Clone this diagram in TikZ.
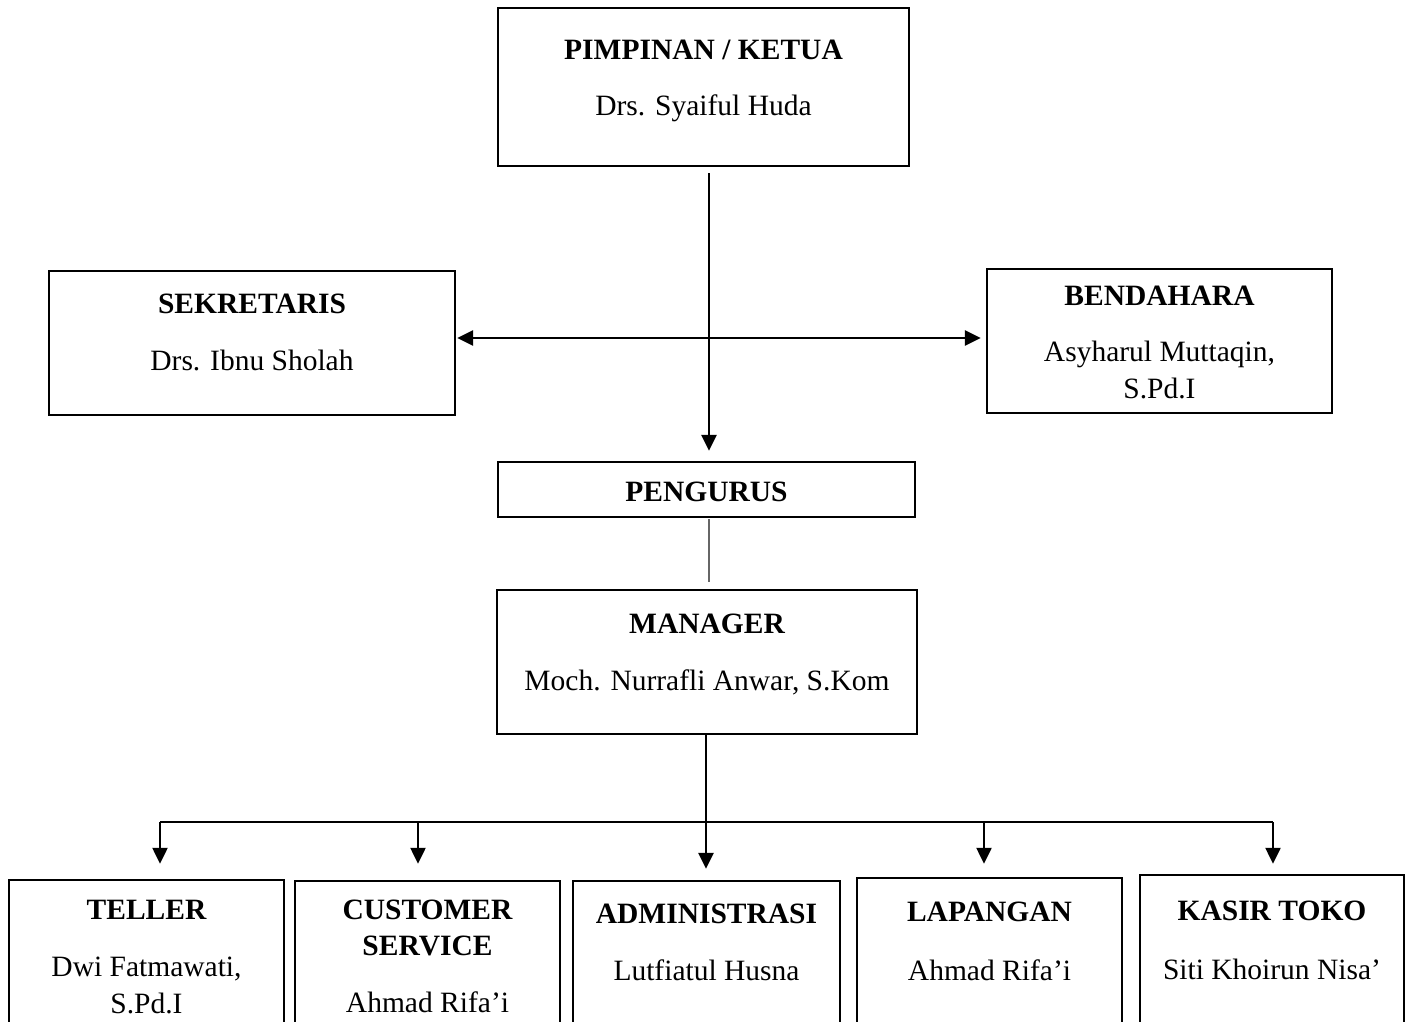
\documentclass[tikz,border=0pt]{standalone}
\usepackage{fontspec}
\setmainfont{Liberation Serif}
\usetikzlibrary{arrows.meta}
\begin{document}
\begin{tikzpicture}[x=1pt,y=-1pt,
  box/.style={draw=black, line width=2.4pt, inner sep=0pt, rectangle},
  ttl/.style={anchor=base, inner sep=0pt, font=\fontsize{29.5}{35}\selectfont\bfseries},
  nm/.style={anchor=base, inner sep=0pt, font=\fontsize{29.5}{35}\selectfont},
  arr/.style={line width=2.8pt, -{Triangle[length=16pt,width=15pt]}},
  dbl/.style={line width=2.8pt, {Triangle[length=16pt,width=15pt]}-{Triangle[length=16pt,width=15pt]}},
  drop/.style={line width=2.3pt, -{Triangle[length=16pt,width=15pt]}},
  branch/.style={line width=1.8pt},
  thinline/.style={line width=1.2pt, draw=black!60}]
\useasboundingbox (0,0) rectangle (1408,1021);
\clip (0,0) rectangle (1408,1021);
\fill[white] (0,0) rectangle (1408,1021);

% boxes
\node[box, minimum width=411, minimum height=158] (pimp) at (703.5,87) {};
\node[box, minimum width=406, minimum height=144] (sek) at (252,343) {};
\node[box, minimum width=345, minimum height=144] (ben) at (1159.5,341) {};
\node[box, minimum width=417, minimum height=55] (peng) at (706.5,489.5) {};
\node[box, minimum width=420, minimum height=144] (man) at (707,662) {};
\node[box, minimum width=275, minimum height=180] (teller) at (146.5,970) {};
\node[box, minimum width=265, minimum height=180] (cs) at (427.5,971) {};
\node[box, minimum width=267, minimum height=180] (adm) at (706.5,971) {};
\node[box, minimum width=265, minimum height=180] (lap) at (989.5,968) {};
\node[box, minimum width=264, minimum height=180] (kas) at (1272,965) {};

% texts
\node[ttl] (pimpT) at (703.5,59) {PIMPINAN / KETUA};
\node[nm]  (pimpN) at (703.5,115) {Drs. Syaiful Huda};
\node[ttl] (sekT) at (252,313) {SEKRETARIS};
\node[nm]  (sekN) at (252,370) {Drs. Ibnu Sholah};
\node[ttl] (benT) at (1159.5,305) {BENDAHARA};
\node[nm]  (benN1) at (1159.5,361) {Asyharul Muttaqin,};
\node[nm]  (benN2) at (1159.5,398) {S.Pd.I};
\node[ttl] (pengT) at (706.5,501) {PENGURUS};
\node[ttl] (manT) at (707,633) {MANAGER};
\node[nm]  (manN) at (707,690) {Moch. Nurrafli Anwar, S.Kom};
\node[ttl] (tellerT) at (146.5,919) {TELLER};
\node[nm]  (tellerN1) at (146.5,976) {Dwi Fatmawati,};
\node[nm]  (tellerN2) at (146.5,1013) {S.Pd.I};
\node[ttl] (csT1) at (427.5,919) {CUSTOMER};
\node[ttl] (csT2) at (427.5,955) {SERVICE};
\node[nm]  (csN) at (427.5,1012) {Ahmad Rifa’i};
\node[ttl] (admT) at (706.5,923) {ADMINISTRASI};
\node[nm]  (admN) at (706.5,980) {Lutfiatul Husna};
\node[ttl] (lapT) at (989.5,921) {LAPANGAN};
\node[nm]  (lapN) at (989.5,980) {Ahmad Rifa’i};
\node[ttl] (kasT) at (1272,920) {KASIR TOKO};
\node[nm]  (kasN) at (1272,979) {Siti Khoirun Nisa’};

% connectors
\coordinate (vx) at (709,0);
\coordinate (hy) at (0,338);
\coordinate (mx) at (706,0);
\draw[arr, shorten <=6pt, shorten >=10pt] (pimp.south -| vx) -- (peng.north -| vx);
\draw[dbl, shorten <=1pt, shorten >=5pt] (sek.east |- hy) -- (ben.west |- hy);
\draw[thinline, shorten <=1pt, shorten >=7pt] (peng.south -| vx) -- (man.north -| vx);
\draw[arr, shorten >=11pt] (man.south -| mx) -- (adm.north -| mx);

\coordinate (b1) at (160,822);
\coordinate (b2) at (418,822);
\coordinate (b4) at (984,822);
\coordinate (b5) at (1273,822);
\draw[branch] (b1) -- (b5);
\draw[drop, shorten >=15pt] (b1) -- (b1 |- teller.north);
\draw[drop, shorten >=16pt] (b2) -- (b2 |- cs.north);
\draw[drop, shorten >=13pt] (b4) -- (b4 |- lap.north);
\draw[drop, shorten >=10pt] (b5) -- (b5 |- kas.north);
\end{tikzpicture}
\end{document}
